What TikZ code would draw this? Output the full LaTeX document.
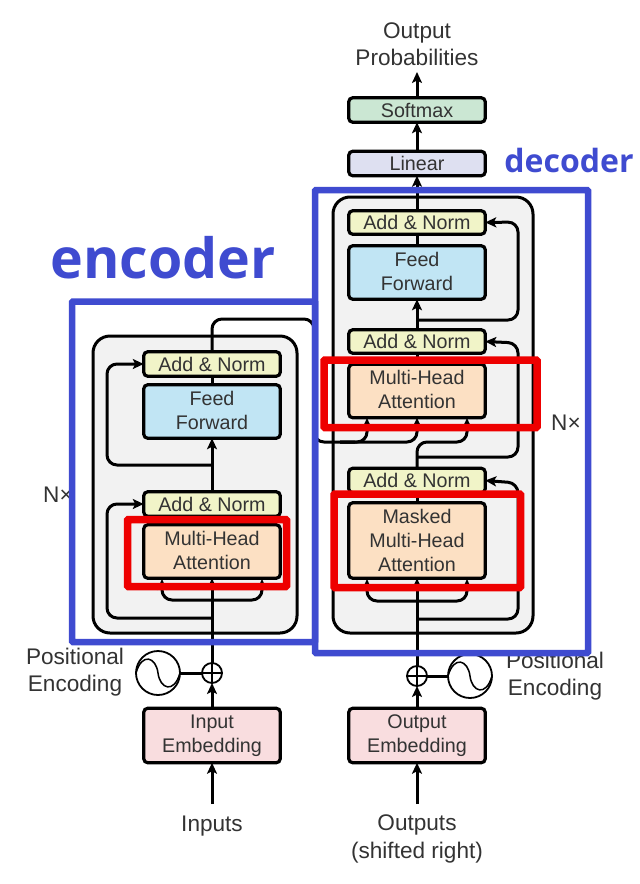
\documentclass[tikz,border=0pt]{standalone}
\usepackage{fontspec}
\setmainfont{Liberation Sans}
\newfontfamily\labelfont{Open Sans}
\usetikzlibrary{arrows.meta}
\definecolor{panel}{HTML}{F2F2F2}
\definecolor{normc}{HTML}{F1F4C8}
\definecolor{ffc}{HTML}{C1E5F4}
\definecolor{attc}{HTML}{FCE0C3}
\definecolor{embc}{HTML}{F9DDDF}
\definecolor{softc}{HTML}{CBE7D3}
\definecolor{linc}{HTML}{DEE0F1}
\definecolor{blueb}{HTML}{3F4BD0}
\definecolor{redb}{HTML}{EE0000}
\definecolor{inkc}{HTML}{333333}
\newcommand{\lift}{\rule[-3pt]{0pt}{0pt}}
\tikzset{
  x=1pt,y=-1pt,
  every node/.style={inner sep=0pt,outer sep=0pt},
  blockb/.style={draw=black,line width=3.2pt,rounded corners=4pt,minimum width=136.5pt,align=center,font=\fontsize{19.7}{24}\selectfont,text=inkc,anchor=center},
  panelb/.style={draw=black,line width=3pt,rounded corners=17pt,fill=panel},
  wire/.style={draw=black,line width=3pt,rounded corners=10pt},
  arr/.style={wire,-{Stealth[length=11pt,width=10pt,inset=2.5pt]}},
  bluef/.style={draw=blueb,line width=6.5pt,rounded corners=1pt},
  redf/.style={draw=redb,line width=7.5pt,rounded corners=1pt},
  capt/.style={align=center,font=\fontsize{22.6}{27.5}\selectfont,text=inkc},
  ring/.style={draw=black,line width=1.8pt,circle,fill=white},
}
\begin{document}
\begin{tikzpicture}
\useasboundingbox (0,0) rectangle (640,884);
% panels
\draw[panelb] (93,336) rectangle (297,633);
\draw[panelb] (333,197) rectangle (533,633);
% encoder blocks
\node[blockb,fill=normc,minimum height=24.5pt] (enorm2) at (212,364) {Add \& Norm};
\node[blockb,fill=ffc,minimum height=53.5pt] (eff) at (212,411.5) {Feed\\Forward\lift};
\node[blockb,fill=normc,minimum height=24.5pt] (enorm1) at (212,504) {Add \& Norm};
\node[blockb,fill=attc,minimum height=53.5pt] (emh) at (212,551.5) {Multi-Head\\Attention\lift};
\node[blockb,fill=embc,minimum height=54.5pt] (eemb) at (212,735.5) {Input\\Embedding};
% decoder blocks
\node[blockb,fill=softc,minimum height=24.5pt] (soft) at (417,110) {Softmax};
\node[blockb,fill=linc,minimum height=24.5pt] (lin) at (417,163.5) {Linear};
\node[blockb,fill=normc,minimum height=23.5pt] (dnorm3) at (417,222.5) {Add \& Norm};
\node[blockb,fill=ffc,minimum height=53.5pt] (dff) at (417,272.5) {Feed\\Forward\lift};
\node[blockb,fill=normc,minimum height=23.5pt] (dnorm2) at (417,341.5) {Add \& Norm};
\node[blockb,fill=attc,minimum height=53.5pt] (dmh) at (417,391) {Multi-Head\\Attention\lift};
\node[blockb,fill=normc,minimum height=24.5pt] (dnorm1) at (417,480.5) {Add \& Norm};
\node[blockb,fill=attc,minimum height=75.5pt] (dmask) at (417,540.5) {Masked\\Multi-Head\\Attention};
\node[blockb,fill=embc,minimum height=54.5pt] (demb) at (417,735.5) {Output\\Embedding};
% adders and encodings
\node[ring,minimum size=20pt] (eadd) at (212,673) {};
\node[ring,minimum size=20pt] (dadd) at (417,676) {};
\node[ring,minimum size=44pt] (esin) at (158,673) {};
\node[ring,minimum size=44pt] (dsin) at (470,676) {};
\draw[line width=1.5pt] (eadd.west) -- (eadd.east) (eadd.north) -- (eadd.south);
\draw[line width=1.5pt] (dadd.west) -- (dadd.east) (dadd.north) -- (dadd.south);
\draw[line width=1.5pt] (esin.west) .. controls (142,652) and (156,657) .. (158,673) .. controls (160,689) and (174,694) .. (esin.east);
\draw[line width=1.5pt] (dsin.west) .. controls (454,655) and (468,660) .. (470,676) .. controls (472,692) and (486,697) .. (dsin.east);
% free-end coordinates
\coordinate (einp) at (212,804);
\coordinate (dinp) at (417,804);
\coordinate (dout) at (417,72);
% encoder wires
\draw[arr] (einp) -- (eemb.south);
\draw[arr] (eemb.north) -- (eadd.south);
\draw[arr] (eadd.north) -- (emh.south);
\draw[wire] (esin.east) -- (eadd.west);
\draw[arr] (212,618) -- (107,618) -- (107,504) -- (enorm1.west);
\draw[arr] (212,600) -- (162,600) -- (162,579);
\draw[arr] (212,600) -- (262,600) -- (262,579);
\draw[wire] (emh.north) -- (enorm1.south);
\draw[arr] (enorm1.north) -- (eff.south);
\draw[arr] (212,465) -- (107,465) -- (107,364) -- (enorm2.west);
\draw[wire] (eff.north) -- (enorm2.south);
\draw[wire] (enorm2.north) -- (212,319) -- (314,319) -- (314,442) -- (355,442);
% decoder wires
\draw[arr] (dinp) -- (demb.south);
\draw[arr] (demb.north) -- (dadd.south);
\draw[arr] (dadd.north) -- (dmask.south);
\draw[wire] (dsin.west) -- (dadd.east);
\draw[arr] (417,619) -- (518,619) -- (518,483) -- (dnorm1.east);
\draw[arr] (417,601) -- (367,601) -- (367,579);
\draw[arr] (417,601) -- (467,601) -- (467,579);
\draw[wire] (dmask.north) -- (dnorm1.south);
\draw[arr] (dnorm1.north) -- (417,442) -- (467,442) -- (467,418);
\draw[arr] (417,457) -- (518,457) -- (518,343) -- (dnorm2.east);
\draw[arr] (340,442) -- (367,442) -- (367,418);
\draw[arr] (340,442) -- (417,442) -- (dmh.south);
\draw[wire] (dmh.north) -- (dnorm2.south);
\draw[arr] (dnorm2.north) -- (dff.south);
\draw[arr] (417,320) -- (518,320) -- (518,222) -- (dnorm3.east);
\draw[wire] (dff.north) -- (dnorm3.south);
\draw[arr] (dnorm3.north) -- (lin.south);
\draw[arr] (lin.north) -- (soft.south);
\draw[arr] (soft.north) -- (dout);
% captions
\node[capt] (tout) at (417,44) {Output\\Probabilities};
\node[capt] (tinp) at (212,826) {Inputs};
\node[capt] (toutp) at (417,839) {Outputs\\(shifted right)};
\node[capt,anchor=west] (tpe1) at (26,672) {Positional\\Encoding};
\node[capt,anchor=west] (tpe2) at (506,676) {Positional\\Encoding};
\node[capt,anchor=center] (tn1) at (58,495) {N×};
\node[capt,anchor=center] (tn2) at (566,423) {N×};
% highlight frames
\draw[redf] (127.5,519.5) rectangle (286.5,586.5);
\draw[redf] (324,360) rectangle (537,427.5);
\draw[redf] (334,494) rectangle (520.5,587.5);
\draw[bluef] (72,301.5) rectangle (315,642);
\draw[bluef] (315,190) rectangle (588,653);
\node[font=\labelfont\bfseries\fontsize{55.5}{60}\selectfont,text=blueb] (tenc) at (163,258) {encoder};
\node[font=\labelfont\bfseries\fontsize{32}{36}\selectfont,text=blueb] (tdec) at (569,160) {decoder};
\end{tikzpicture}
\end{document}
